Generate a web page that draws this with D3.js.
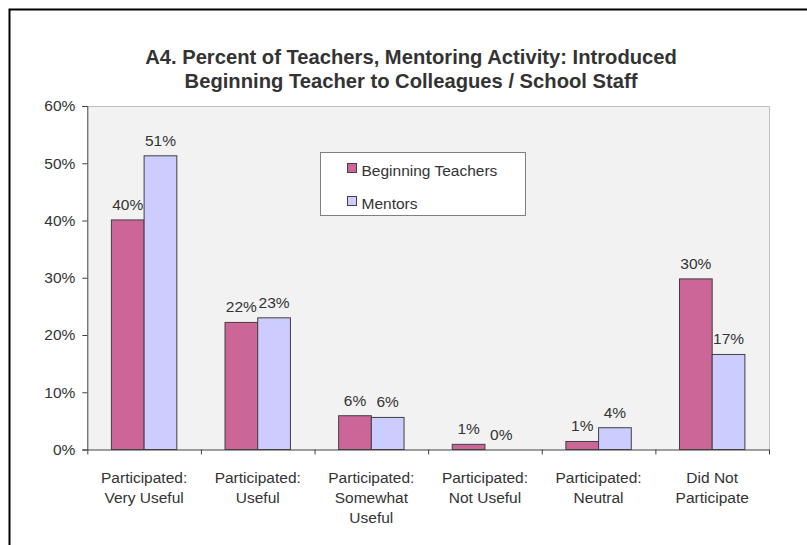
<!DOCTYPE html>
<html>
<head>
<meta charset="utf-8">
<script src="https://cdn.jsdelivr.net/npm/d3@7"></script>
<style>
  body { margin: 0; background: #fff; }
  svg text { font-family: "Liberation Sans", Arial, sans-serif; fill: #333; }
</style>
</head>
<body>
<div id="canvas"></div>
<script>
var categories = [
  ["Participated:", "Very Useful"],
  ["Participated:", "Useful"],
  ["Participated:", "Somewhat", "Useful"],
  ["Participated:", "Not Useful"],
  ["Participated:", "Neutral"],
  ["Did Not", "Participate"]
];
var seriesNames = ["Beginning Teachers", "Mentors"];
var beginningTeachers = [40.1, 22.2, 5.9, 0.9, 1.4, 29.8];
var mentors = [51.3, 23.0, 5.6, 0.0, 3.8, 16.6];
var yTicks = [0, 10, 20, 30, 40, 50, 60];
var colors = ["#CC6699", "#CCCCFF"];
var titleLines = [
  "A4. Percent of Teachers, Mentoring Activity: Introduced",
  "Beginning Teacher to Colleagues / School Staff"
];

var W = 807, H = 545;
var plotLeft = 87.3, plotRight = 769, plotTop = 106, plotBottom = 449.5;

var svg = d3.select("#canvas").append("svg")
  .attr("width", W)
  .attr("height", H);

// outer frame (only top and left edges show)
svg.append("rect")
  .attr("x", 9.5).attr("y", 9.5)
  .attr("width", W + 20).attr("height", H + 20)
  .attr("fill", "none")
  .attr("stroke", "#000")
  .attr("stroke-width", 2);

// title
svg.append("g").selectAll("text")
  .data(titleLines)
  .enter().append("text")
  .attr("x", 411)
  .attr("y", function (d, i) { return 64 + i * 24; })
  .attr("text-anchor", "middle")
  .style("font-size", "20.2px")
  .style("font-weight", "bold")
  .text(function (d) { return d; });

var idx = d3.range(categories.length);

var x0 = d3.scaleBand()
  .domain(idx)
  .range([plotLeft, plotRight])
  .padding(0);

var x1 = d3.scaleBand()
  .domain(seriesNames)
  .range([0, x0.bandwidth()])
  .paddingInner(0)
  .paddingOuter(0.737);

var y = d3.scaleLinear()
  .domain([0, 60])
  .range([plotBottom, plotTop]);

// plot area
svg.append("rect")
  .attr("x", plotLeft).attr("y", plotTop)
  .attr("width", plotRight - plotLeft).attr("height", plotBottom - plotTop)
  .attr("fill", "#F2F2F2")
  .attr("stroke", "none");

svg.append("path")
  .attr("d", "M" + plotLeft + "," + (plotTop + 0.5) + "H" + (plotRight + 0.5) + "V" + plotBottom)
  .attr("fill", "none")
  .attr("stroke", "#C0C0C0")
  .attr("stroke-width", 1);

// bars
var seriesData = [beginningTeachers, mentors];
var groups = svg.append("g").selectAll("g")
  .data(seriesData)
  .enter().append("g");

groups.each(function (vals, s) {
  var g = d3.select(this);
  g.selectAll("rect")
    .data(vals)
    .enter().append("rect")
    .attr("x", function (d, i) { return x0(i) + x1(seriesNames[s]); })
    .attr("y", function (d) { return y(d); })
    .attr("width", x1.bandwidth())
    .attr("height", function (d) { return plotBottom - y(d); })
    .attr("fill", colors[s])
    .attr("stroke", "#404040")
    .attr("stroke-width", 1);

  g.selectAll("text")
    .data(vals)
    .enter().append("text")
    .attr("x", function (d, i) { return x0(i) + x1(seriesNames[s]) + x1.bandwidth() / 2; })
    .attr("y", function (d) { return y(d) - 10; })
    .attr("text-anchor", "middle")
    .style("font-size", "15.5px")
    .text(function (d) { return d3.format(".0f")(d) + "%"; });
});

// y axis
var yAxis = svg.append("g")
  .attr("transform", "translate(" + plotLeft + ",0)")
  .call(d3.axisLeft(y).tickValues(yTicks).tickSize(5).tickPadding(7)
    .tickFormat(function (d) { return d + "%"; }));
yAxis.selectAll("path, line").attr("stroke", "#404040");
yAxis.selectAll("text")
  .style("font-size", "15.5px")
  .attr("fill", "#333")
  .attr("font-family", null);

// x axis with ticks on category boundaries
var xb = d3.scaleLinear().domain([0, categories.length]).range([plotLeft, plotRight]);
var xAxis = svg.append("g")
  .attr("transform", "translate(0," + plotBottom + ")")
  .call(d3.axisBottom(xb).tickValues(d3.range(categories.length + 1))
    .tickSize(5).tickSizeOuter(0).tickFormat(""));
xAxis.selectAll("path, line").attr("stroke", "#404040");

// category labels
svg.append("g").selectAll("text")
  .data(categories)
  .enter().append("text")
  .attr("text-anchor", "middle")
  .attr("transform", function (d, i) {
    return "translate(" + (x0(i) + x0.bandwidth() / 2) + "," + (plotBottom + 33) + ")";
  })
  .style("font-size", "15.5px")
  .each(function (lines) {
    d3.select(this).selectAll("tspan")
      .data(lines)
      .enter().append("tspan")
      .attr("x", 0)
      .attr("y", function (d, j) { return j * 20; })
      .text(function (d) { return d; });
  });

// legend
var legend = svg.append("g").attr("transform", "translate(320.5,152.5)");
legend.append("rect")
  .attr("width", 205).attr("height", 63)
  .attr("fill", "#fff")
  .attr("stroke", "#808080")
  .attr("stroke-width", 1);

var items = legend.selectAll("g")
  .data(seriesNames)
  .enter().append("g")
  .attr("transform", function (d, i) { return "translate(27," + (11 + i * 33) + ")"; });
items.append("rect")
  .attr("width", 9).attr("height", 9)
  .attr("fill", function (d, i) { return colors[i]; })
  .attr("stroke", "#404040");
items.append("text")
  .attr("x", 14)
  .attr("y", 12.5)
  .style("font-size", "15.5px")
  .text(function (d) { return d; });
</script>
</body>
</html>
